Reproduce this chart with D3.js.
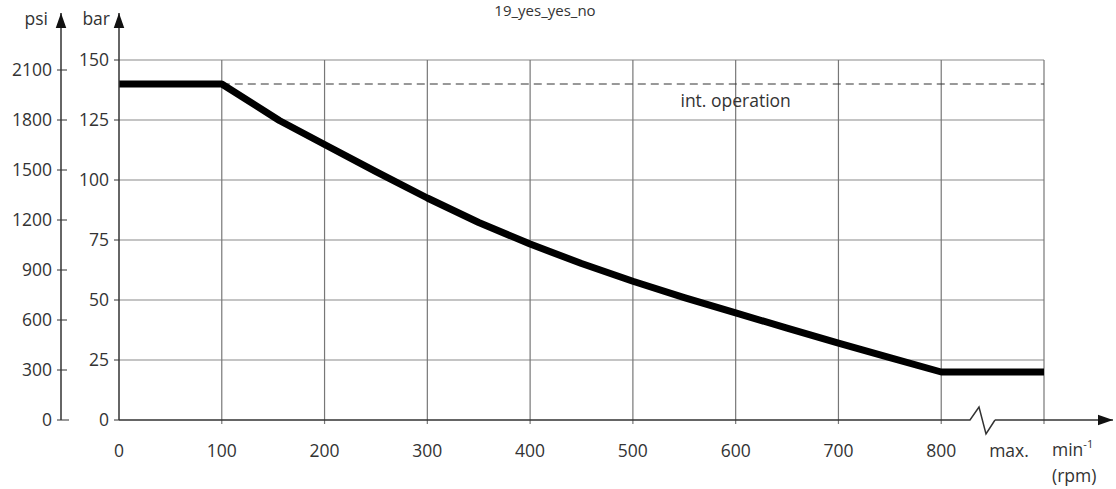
<!DOCTYPE html>
<html>
<head>
<meta charset="utf-8">
<script src="https://cdn.jsdelivr.net/npm/d3@7"></script>
<style>
  body { margin: 0; background: #fff; }
  svg text { font-family: "Open Sans", "Noto Sans", sans-serif; fill: #333; }
</style>
</head>
<body>
<svg id="chart" width="1116" height="489"></svg>
<script>
// values
let rpm = [0, 100, 156, 200, 250, 300, 350, 400, 450, 500, 550, 600, 650, 700, 750, 800, 900];
let pressure = [140, 140, 124.8, 114.8, 103.5, 92.5, 82.3, 73.3, 65.2, 57.8, 51, 44.6, 38.3, 32, 26, 20, 20];
let barTicks = [0, 25, 50, 75, 100, 125, 150];
let psiTicks = [0, 300, 600, 900, 1200, 1500, 1800, 2100];
let rpmTicks = [0, 100, 200, 300, 400, 500, 600, 700, 800];
let intOperation = 140;

let svg = d3.select('#chart');
let fs = '17.5px';

let x = d3.scaleLinear().domain([0, 900]).range([119, 1044]);
let yBar = d3.scaleLinear().domain([0, 150]).range([420, 60]);
let yPsi = d3.scaleLinear().domain([0, 2100]).range([420, 70]);

let grid = svg.append('g');

// horizontal grid
grid.selectAll('.hgrid')
    .data(barTicks.filter(d => d > 0))
    .enter()
    .append('line')
    .attr('x1', x(0))
    .attr('x2', x(900))
    .attr('y1', d => yBar(d))
    .attr('y2', d => yBar(d))
    .attr('stroke', '#8a8a8a')
    .attr('stroke-width', 1.2);

// vertical grid (incl. "max.")
grid.selectAll('.vgrid')
    .data(rpmTicks.filter(d => d > 0).concat([900]))
    .enter()
    .append('line')
    .attr('x1', d => x(d))
    .attr('x2', d => x(d))
    .attr('y1', yBar(150))
    .attr('y2', yBar(0) + 4)
    .attr('stroke', '#777')
    .attr('stroke-width', 1.2);

// dashed int. operation line
svg.append('line')
    .attr('x1', x(100))
    .attr('x2', x(900))
    .attr('y1', yBar(intOperation))
    .attr('y2', yBar(intOperation))
    .attr('stroke', '#333')
    .attr('stroke-width', 1)
    .attr('stroke-dasharray', '8,5');

svg.append('text')
    .text('int. operation')
    .attr('x', x(600))
    .attr('y', yBar(intOperation) + 23)
    .attr('text-anchor', 'middle')
    .style('font-size', fs);

// curve
let line = d3.line()
    .x((d, i) => x(rpm[i]))
    .y(d => yBar(d));

svg.append('path')
    .attr('d', line(pressure))
    .attr('fill', 'none')
    .attr('stroke', '#000')
    .attr('stroke-width', 7)
    .attr('stroke-linejoin', 'round');

// arrowhead marker
svg.append('defs').append('marker')
    .attr('id', 'arrow')
    .attr('viewBox', '0 0 10 10')
    .attr('refX', 10)
    .attr('refY', 5)
    .attr('markerUnits', 'userSpaceOnUse')
    .attr('markerWidth', 15)
    .attr('markerHeight', 15)
    .attr('orient', 'auto')
    .append('path')
    .attr('d', 'M0,1.5 L10,5 L0,8.5 Z')
    .attr('fill', '#111');

// bar axis
svg.append('line')
    .attr('x1', x(0)).attr('x2', x(0))
    .attr('y1', yBar(0)).attr('y2', 13)
    .attr('stroke', '#333').attr('stroke-width', 1.5)
    .attr('marker-end', 'url(#arrow)');

let barAxis = svg.append('g');
barAxis.selectAll('line')
    .data(barTicks)
    .enter()
    .append('line')
    .attr('x1', x(0) - 5).attr('x2', x(0))
    .attr('y1', d => yBar(d)).attr('y2', d => yBar(d))
    .attr('stroke', '#333');
barAxis.selectAll('text')
    .data(barTicks)
    .enter()
    .append('text')
    .text(d => d)
    .attr('x', x(0) - 10)
    .attr('y', d => yBar(d) + 6)
    .attr('text-anchor', 'end')
    .style('font-size', fs);

svg.append('text').text('bar')
    .attr('x', x(0) - 9).attr('y', 25)
    .attr('text-anchor', 'end')
    .style('font-size', fs);

// psi axis
let psiX = 61;
svg.append('line')
    .attr('x1', psiX).attr('x2', psiX)
    .attr('y1', yPsi(0)).attr('y2', 13)
    .attr('stroke', '#333').attr('stroke-width', 1.5)
    .attr('marker-end', 'url(#arrow)');

let psiAxis = svg.append('g');
psiAxis.selectAll('line')
    .data(psiTicks)
    .enter()
    .append('line')
    .attr('x1', psiX - 4).attr('x2', d => d === 0 ? psiX + 8 : psiX + 6)
    .attr('y1', d => yPsi(d)).attr('y2', d => yPsi(d))
    .attr('stroke', '#333');
psiAxis.selectAll('text')
    .data(psiTicks)
    .enter()
    .append('text')
    .text(d => d)
    .attr('x', psiX - 9)
    .attr('y', d => yPsi(d) + 6)
    .attr('text-anchor', 'end')
    .style('font-size', fs);

svg.append('text').text('psi')
    .attr('x', psiX - 13).attr('y', 25)
    .attr('text-anchor', 'end')
    .style('font-size', fs);

// x axis with break
let y0 = yBar(0);
svg.append('path')
    .attr('d', `M${x(0)},${y0} L970,${y0} L979,${y0 - 13} L986,${y0 + 14} L995,${y0}`)
    .attr('fill', 'none')
    .attr('stroke', '#333')
    .attr('stroke-width', 1.5);
svg.append('line')
    .attr('x1', 995).attr('x2', 1113)
    .attr('y1', y0).attr('y2', y0)
    .attr('stroke', '#333').attr('stroke-width', 1.5)
    .attr('marker-end', 'url(#arrow)');

svg.append('g').selectAll('text')
    .data(rpmTicks)
    .enter()
    .append('text')
    .text(d => d)
    .attr('x', d => x(d))
    .attr('y', y0 + 37)
    .attr('text-anchor', 'middle')
    .style('font-size', fs);

svg.append('text').text('max.')
    .attr('x', 1009).attr('y', y0 + 37)
    .attr('text-anchor', 'middle')
    .style('font-size', fs);

let unit = svg.append('text')
    .attr('x', 1052).attr('y', y0 + 36)
    .style('font-size', fs);
unit.append('tspan').text('min');
unit.append('tspan').text('-1').attr('dy', -8).style('font-size', '11px');
svg.append('text').text('(rpm)')
    .attr('x', 1052).attr('y', y0 + 62)
    .style('font-size', fs);

// title
svg.append('text').text('19_yes_yes_no')
    .attr('x', 545).attr('y', 16)
    .attr('text-anchor', 'middle')
    .style('font-size', '15px');
</script>
</body>
</html>
